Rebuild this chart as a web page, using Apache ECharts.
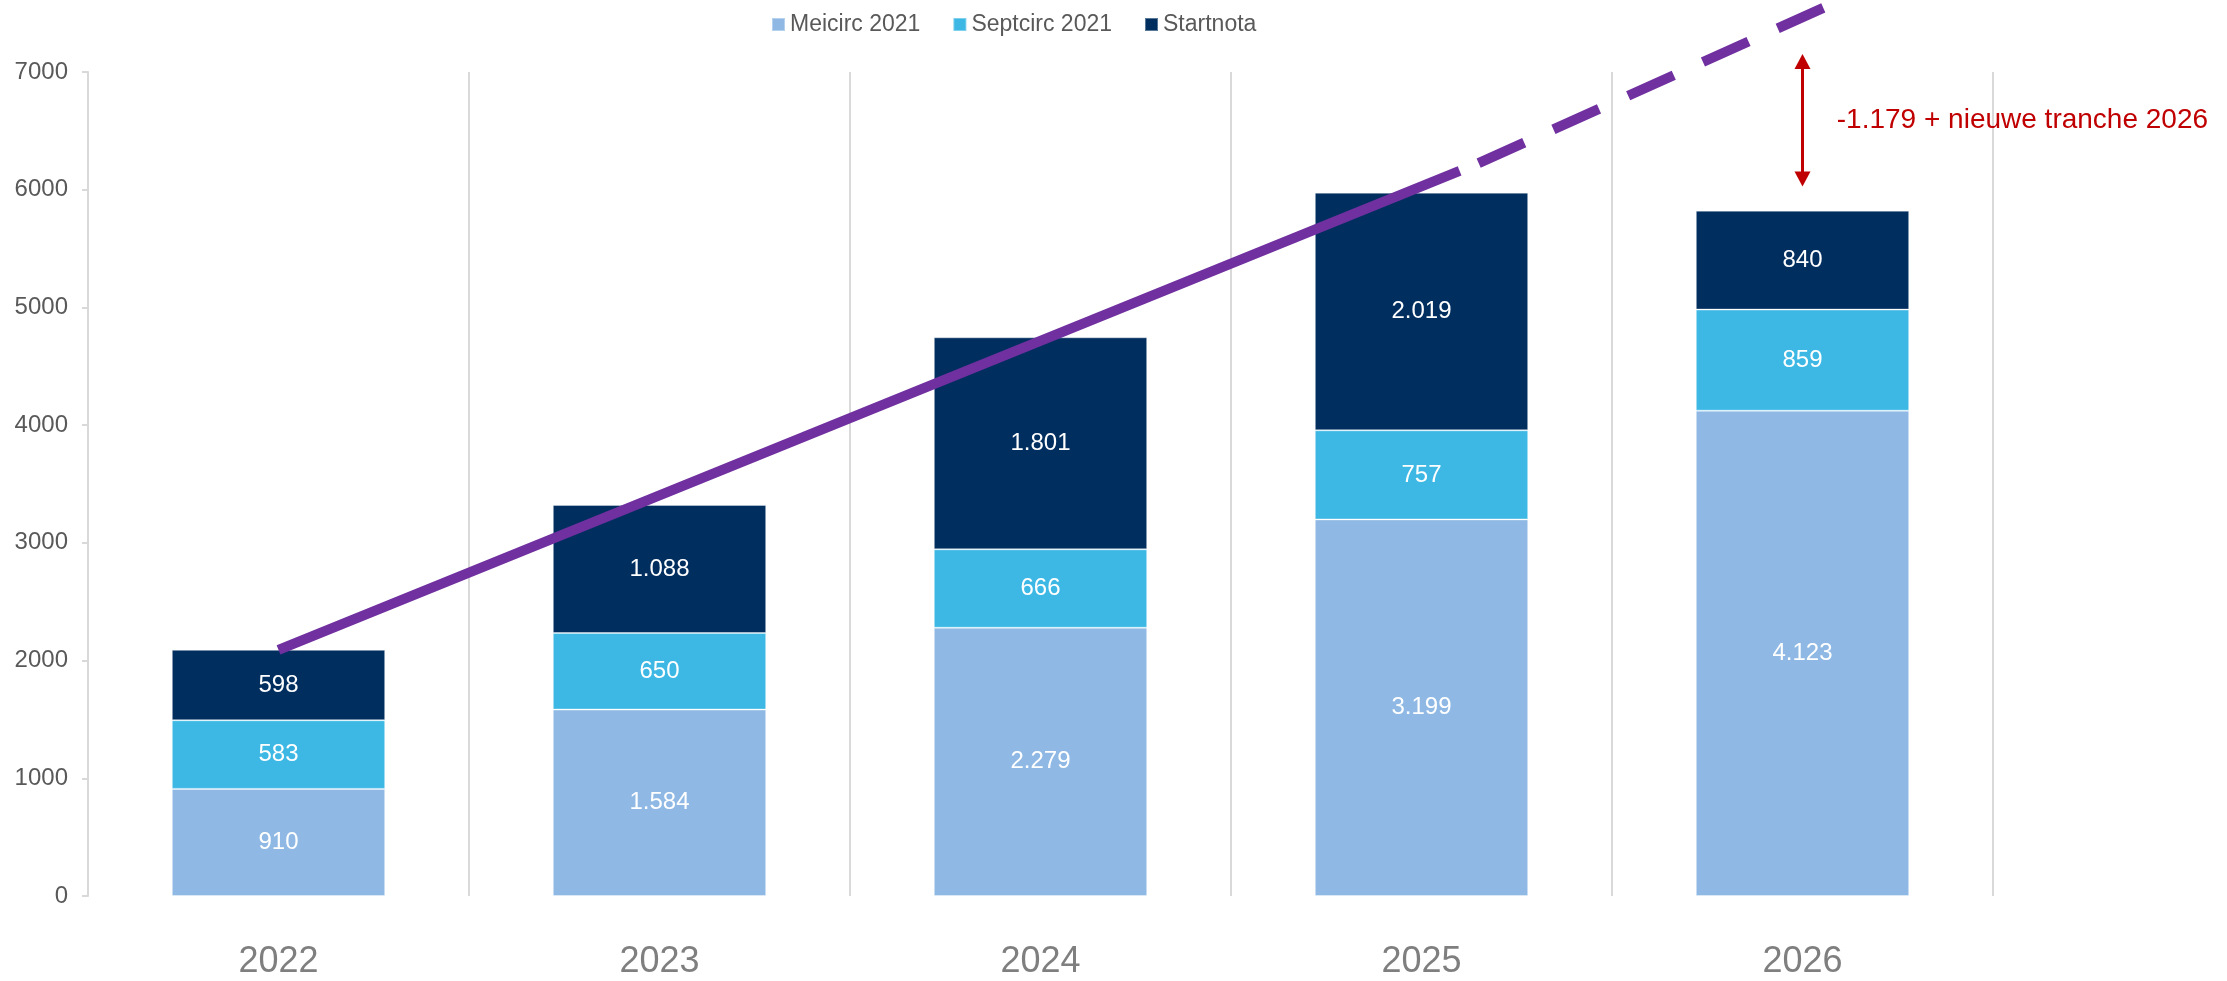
<!DOCTYPE html>
<html>
<head>
<meta charset="utf-8">
<script src="https://cdn.jsdelivr.net/npm/echarts@6/dist/echarts.min.js"></script>
<style>
  html, body { margin: 0; padding: 0; background: #fff; }
  #chart { width: 2227px; height: 981px; }
</style>
</head>
<body>
<div id="chart"></div>
<script>
var chart = echarts.init(document.getElementById('chart'));
var option;

const years = ['2022', '2023', '2024', '2025', '2026'];
const meicirc = [910, 1584, 2279, 3199, 4123];
const septcirc = [583, 650, 666, 757, 859];
const startnota = [598, 1088, 1801, 2019, 840];
const yTicks = [0, 7000, 1000];
// trend line, x given as category index
const trendSolid = [[0, 2091], [3.1, 6160]];
const trendDashed = [[3.15, 6226], [4.25, 7830]];
// gap annotation at 2026
const gapArrow = [[4, 6090], [4, 7090]];
const gapText = '-1.179 + nieuwe tranche 2026';

const font = '"Liberation Sans", Arial, sans-serif';

function nl(v) {
  return v.toString().replace(/\B(?=(\d{3})+(?!\d))/g, '.');
}

function barSeries(name, data, color) {
  return {
    name: name,
    type: 'bar',
    stack: 'total',
    data: data,
    barWidth: '56%',
    itemStyle: { color: color, borderColor: 'rgba(255,255,255,0.35)', borderWidth: 1 },
    label: {
      show: true,
      position: 'inside',
      color: '#fff',
      fontSize: 24,
      fontFamily: font,
      formatter: function (p) { return nl(p.value); }
    }
  };
}

option = {
  animation: false,
  legend: {
    data: ['Meicirc 2021', 'Septcirc 2021', 'Startnota'],
    left: 766,
    top: 8,
    icon: 'rect',
    itemWidth: 13,
    itemHeight: 13,
    itemGap: 32,
    textStyle: { fontSize: 23, color: '#595959', fontFamily: font }
  },
  grid: {
    left: 88,
    right: 234,
    top: 72,
    bottom: 85,
    containLabel: false,
    outerBoundsMode: 'none'
  },
  xAxis: [
    {
      type: 'category',
      data: years,
      axisLine: { show: false },
      axisTick: { show: false },
      axisLabel: { fontSize: 36, color: '#7f7f7f', fontFamily: font, margin: 48 },
      splitLine: { show: true, interval: 0, lineStyle: { color: '#d9d9d9', width: 2 } }
    },
    {
      type: 'value',
      min: -0.5,
      max: years.length - 0.5,
      show: false,
      splitLine: { show: false }
    }
  ],
  yAxis: {
    type: 'value',
    min: yTicks[0],
    max: yTicks[1],
    interval: yTicks[2],
    axisLine: { show: true, onZero: false, lineStyle: { color: '#d9d9d9', width: 2 } },
    axisTick: { show: true, length: 6, lineStyle: { color: '#d9d9d9', width: 2 } },
    axisLabel: {
      fontSize: 24, color: '#595959', fontFamily: font, margin: 20,
      formatter: function (v) { return String(v); }
    },
    splitLine: { show: false }
  },
  series: [
    barSeries('Meicirc 2021', meicirc, '#8fb9e4'),
    barSeries('Septcirc 2021', septcirc, '#3db8e4'),
    barSeries('Startnota', startnota, '#002e5f'),
    {
      name: 'trend',
      type: 'line',
      xAxisIndex: 1,
      data: trendSolid,
      symbol: 'none',
      clip: false,
      lineStyle: { color: '#7030a0', width: 10, cap: 'butt' },
      z: 5
    },
    {
      name: 'trend2',
      type: 'line',
      xAxisIndex: 1,
      data: trendDashed,
      symbol: 'none',
      clip: false,
      lineStyle: { color: '#7030a0', width: 10, type: [50, 32], cap: 'butt' },
      z: 5,
      markPoint: {
        silent: true,
        symbol: 'rect',
        symbolSize: 0,
        data: [{ coord: [4.09, 6590] }],
        label: {
          show: true,
          position: 'right',
          distance: 0,
          formatter: gapText,
          fontSize: 28,
          color: '#c00000',
          fontFamily: font
        }
      }
    },
    {
      name: 'gap',
      type: 'line',
      xAxisIndex: 1,
      clip: false,
      silent: true,
      data: [
        { value: gapArrow[0], symbolRotate: 180 },
        { value: gapArrow[1] }
      ],
      symbol: 'triangle',
      symbolSize: [16, 15],
      showSymbol: true,
      itemStyle: { color: '#c00000' },
      lineStyle: { color: '#c00000', width: 3 },
      z: 6
    }
  ]
};

option && chart.setOption(option);
</script>
</body>
</html>
